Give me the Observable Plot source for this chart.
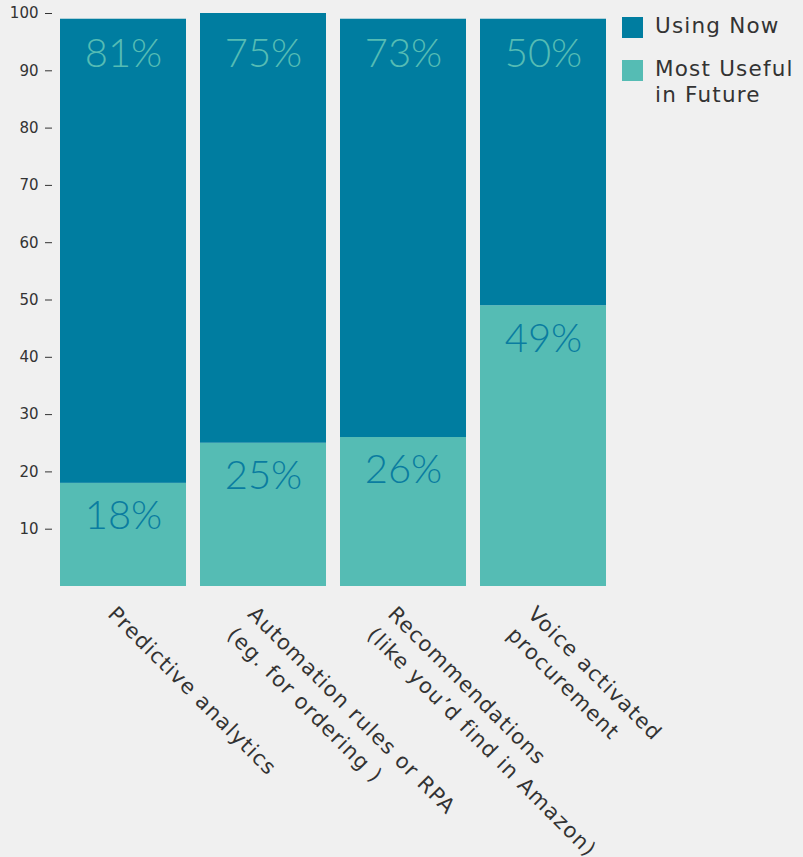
<!DOCTYPE html>
<html>
<head>
<meta charset="utf-8">
<script src="https://cdn.jsdelivr.net/npm/d3@7"></script>
<script src="https://cdn.jsdelivr.net/npm/@observablehq/plot@0.6"></script>
<style>
  html, body { margin: 0; padding: 0; background: #f0f0f0; }
  #wrap { position: relative; width: 803px; height: 857px; font-family: "DejaVu Sans", sans-serif; }
  #legend { position: absolute; left: 622px; top: 13px; color: #333; font-size: 21.5px; letter-spacing: 1.2px; }
  .item { display: flex; align-items: flex-start; margin-bottom: 17px; }
  .sw { width: 21px; height: 21px; margin-right: 12px; margin-top: 4px; flex: none; }
  .lab { line-height: 26px; }
</style>
</head>
<body>
<div id="wrap">
  <div id="chart"></div>
  <div id="legend"></div>
</div>
<script>
const categories = ["Predictive analytics", "Automation rules or RPA", "Recommendations", "Voice activated procurement"];
const categoryLabels = ["Predictive analytics", "Automation rules or RPA\n(eg. for ordering )", "Recommendations\n(like you\u2019d find in Amazon)", "Voice activated\nprocurement"];
const seriesNames = ["Most Useful in Future", "Using Now"];
const legendLabels = ["Using Now", "Most Useful\nin Future"];
const mostUseful = [18, 25, 26, 49];
const usingNow = [81, 75, 73, 50];
const yTicks = [10, 20, 30, 40, 50, 60, 70, 80, 90, 100];
const colors = ["#55bcb4", "#007da0"];

const rows = [];
categories.forEach((c, i) => {
  rows.push({cat: c, series: seriesNames[0], value: mostUseful[i]});
  rows.push({cat: c, series: seriesNames[1], value: usingNow[i]});
});
const bottomRows = categories.map((c, i) => ({cat: c, value: mostUseful[i], label: mostUseful[i] + "%"}));
const topRows = categories.map((c, i) => ({cat: c, value: usingNow[i], label: usingNow[i] + "%"}));
const labelRows = categories.map((c, i) => ({cat: c, label: categoryLabels[i]}));

const chart = Plot.plot({
  width: 803,
  height: 857,
  marginLeft: 46,
  marginRight: 183,
  marginTop: 13,
  marginBottom: 271,
  style: {background: "transparent", fontFamily: "'DejaVu Sans', sans-serif"},
  x: {domain: categories, padding: 0.1, axis: null},
  y: {domain: [0, 100], axis: null},
  color: {domain: seriesNames, range: colors},
  marks: [
    Plot.barY(rows, Plot.stackY({x: "cat", y: "value", fill: "series", order: seriesNames})),
    Plot.axisY({ticks: yTicks, label: null, tickSize: 7, tickPadding: 7, dx: 6, fontSize: 15, color: "#333", stroke: "#333", tickFormat: d => String(d)}),
    Plot.text(topRows, {x: "cat", text: "label", frameAnchor: "top", dy: 41, lineAnchor: "middle", fontFamily: "Lato, sans-serif", fontSize: 40, fontWeight: 300, fill: "#55bcb4"}),
    Plot.text(bottomRows, {x: "cat", y: "value", text: "label", dy: 33, lineAnchor: "middle", fontFamily: "Lato, sans-serif", fontSize: 40, fontWeight: 300, fill: "#0a7ca0"}),
    Plot.text(labelRows, {x: "cat", text: "label", frameAnchor: "bottom", rotate: 45, textAnchor: "start", lineAnchor: "top", dx: -2, dy: 14, fontSize: 21, fill: "#333", lineHeight: 1.4})
  ]
});
chart.querySelectorAll("text[transform*='rotate']").forEach(t => { t.style.letterSpacing = "1.2px"; });
document.getElementById("chart").appendChild(chart);

const legend = document.getElementById("legend");
legendLabels.forEach((t, i) => {
  const item = document.createElement("div");
  item.className = "item";
  const sw = document.createElement("div");
  sw.className = "sw";
  sw.style.background = colors[1 - i];
  const lab = document.createElement("div");
  lab.className = "lab";
  lab.innerHTML = t.replace("\n", "<br>");
  item.appendChild(sw);
  item.appendChild(lab);
  legend.appendChild(item);
});
</script>
</body>
</html>
